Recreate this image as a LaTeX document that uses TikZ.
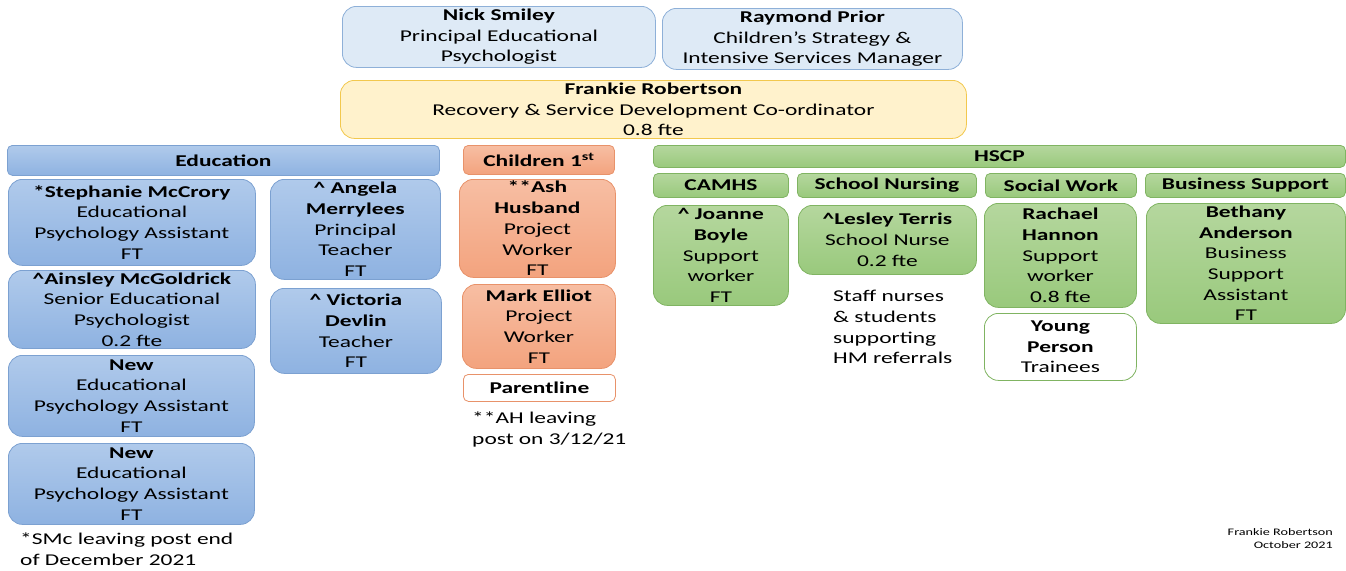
\documentclass[tikz,border=0pt]{standalone}
\usepackage{fontspec}
\setmainfont{Carlito}[FakeStretch=1.42]
\usepackage{tikz}
\usetikzlibrary{positioning}
\definecolor{leadfill}{HTML}{DEEAF6}
\definecolor{leadline}{HTML}{8EB0D8}
\definecolor{coordfill}{HTML}{FFF2CC}
\definecolor{coordline}{HTML}{F2C84E}
\definecolor{eduhi}{HTML}{B0CAEB}
\definecolor{edulo}{HTML}{8EB2E1}
\definecolor{eduline}{HTML}{7CA1D1}
\definecolor{orghi}{HTML}{F7BEA3}
\definecolor{orglo}{HTML}{F3A37E}
\definecolor{orgline}{HTML}{E8926A}
\definecolor{grnhi}{HTML}{B5D79E}
\definecolor{grnlo}{HTML}{99C97C}
\definecolor{grnline}{HTML}{80B462}
\tikzset{
  card/.style={ anchor=north west, align=center, inner xsep=2pt, inner ysep=0pt, rounded corners=14pt, line width=0.8pt, font=\fontsize{16.5}{20.7}\selectfont }
}
\tikzset{
  leadcard/.style={ card, draw=leadline, fill=leadfill }
}
\tikzset{
  coordcard/.style={ card, draw=coordline, fill=coordfill }
}
\tikzset{
  educard/.style={ card, draw=eduline, top color=eduhi, bottom color=edulo }
}
\tikzset{
  c1card/.style={ card, draw=orgline, top color=orghi, bottom color=orglo }
}
\tikzset{
  hscpcard/.style={ card, draw=grnline, top color=grnhi, bottom color=grnlo }
}
\tikzset{
  bar/.style={ rounded corners=5pt }
}
\tikzset{
  note/.style={ anchor=north west, align=left, inner sep=0pt, font=\fontsize{16.5}{20.7}\selectfont }
}

\begin{document}
\begin{tikzpicture}[x=1pt, y=-1pt]
  \useasboundingbox (0,0) rectangle (1346,570);

  \node[leadcard, minimum width=313pt, minimum height=61pt] (nick) at (342,6)
    {\textbf{Nick Smiley}\\Principal Educational\\Psychologist};
  \node[leadcard, minimum width=300pt, minimum height=61pt] (raymond) at (662,8)
    {\textbf{Raymond Prior}\\Children’s Strategy \&\\Intensive Services Manager};
  \node[coordcard, minimum width=626pt, minimum height=58pt] (frankie) at (340,80)
    {\textbf{Frankie Robertson}\\Recovery \& Service Development Co-ordinator\\0.8 fte};

  % education
  \node[educard, bar, minimum width=432pt, minimum height=30pt] (education) at (7,145) {\textbf{Education}};
  \node[educard, minimum width=247pt, minimum height=86pt] (stephanie) at (8,179)
    {\textbf{*Stephanie McCrory}\\Educational\\Psychology Assistant\\FT};
  \node[educard, minimum width=247pt, minimum height=78pt] (ainsley) at (8,270)
    {\textbf{\textasciicircum Ainsley McGoldrick}\\Senior Educational\\Psychologist\\0.2 fte};
  \node[educard, minimum width=246pt, minimum height=81pt] (newa) at (8,355)
    {\textbf{New}\\Educational\\Psychology Assistant\\FT};
  \node[educard, minimum width=246pt, minimum height=81pt] (newb) at (8,443)
    {\textbf{New}\\Educational\\Psychology Assistant\\FT};
  \node[educard, minimum width=170pt, minimum height=100pt] (angela) at (270,179)
    {\textbf{\textasciicircum\ Angela}\\\textbf{Merrylees}\\Principal\\Teacher\\FT};
  \node[educard, minimum width=171pt, minimum height=85pt] (victoria) at (270,288)
    {\textbf{\textasciicircum\ Victoria}\\\textbf{Devlin}\\Teacher\\FT};
  \node[note] (smcnote) at (20,533) {*SMc leaving post end\\of December 2021};

  % children 1st
  \node[c1card, bar, minimum width=151pt, minimum height=29pt] (children) at (463,145)
    {\textbf{Children 1\textsuperscript{st}}};
  \node[c1card, minimum width=156pt, minimum height=98pt] (ash) at (459,179)
    {\textbf{**Ash}\\\textbf{Husband}\\Project\\Worker\\FT};
  \node[c1card, minimum width=153pt, minimum height=84pt] (mark) at (462,284)
    {\textbf{Mark Elliot}\\Project\\Worker\\FT};
  \node[card, bar, draw=orgline, fill=white, minimum width=152pt, minimum height=27pt] (parentline) at (463,374)
    {\textbf{Parentline}};
  \node[note] (ahnote) at (472,412) {**AH leaving\\post on 3/12/21};

  % hscp
  \node[hscpcard, bar, minimum width=692pt, minimum height=22pt] (hscp) at (653,145) {\textbf{HSCP}};
  \node[hscpcard, bar, minimum width=135pt, minimum height=24pt] (camhs) at (653,173) {\textbf{CAMHS}};
  \node[hscpcard, bar, minimum width=179pt, minimum height=24pt] (nursing) at (797,173) {\textbf{School Nursing}};
  \node[hscpcard, bar, minimum width=151pt, minimum height=24pt] (socialwork) at (985,173) {\textbf{Social Work}};
  \node[hscpcard, bar, minimum width=200pt, minimum height=24pt] (business) at (1145,173) {\textbf{Business Support}};
  \node[hscpcard, minimum width=135pt, minimum height=100pt] (joanne) at (653,205)
    {\textbf{\textasciicircum\ Joanne}\\\textbf{Boyle}\\Support\\worker\\FT};
  \node[hscpcard, minimum width=178pt, minimum height=69pt] (lesley) at (798,205)
    {\textbf{\textasciicircum Lesley Terris}\\School Nurse\\0.2 fte};
  \node[note] (nursenote) at (833,290) {Staff nurses\\\& students\\supporting\\HM referrals};
  \node[hscpcard, minimum width=152pt, minimum height=104pt] (rachael) at (984,203)
    {\textbf{Rachael}\\\textbf{Hannon}\\Support\\worker\\0.8 fte};
  \node[card, draw=grnline, fill=white, minimum width=152pt, minimum height=67pt] (young) at (984,313)
    {\textbf{Young}\\\textbf{Person}\\Trainees};
  \node[hscpcard, minimum width=199pt, minimum height=120pt] (bethany) at (1146,203)
    {\textbf{Bethany}\\\textbf{Anderson}\\Business\\Support\\Assistant\\FT};

  \node[anchor=north east, align=right, inner sep=0pt, font=\fontsize{10}{13}\selectfont] (signature) at (1333,528)
    {Frankie Robertson\\October 2021};
\end{tikzpicture}
\end{document}
